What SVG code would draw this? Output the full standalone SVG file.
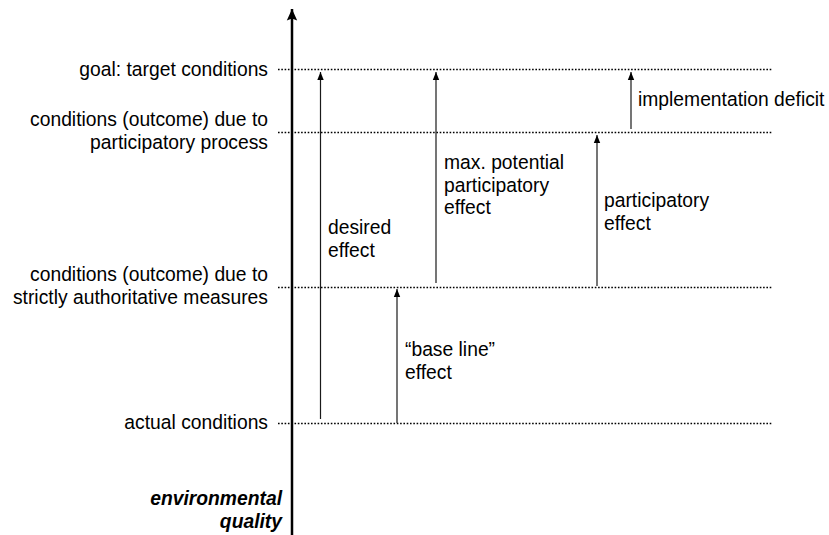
<svg xmlns="http://www.w3.org/2000/svg" width="829" height="535" viewBox="0 0 829 535">
<style>
text{font-family:"Liberation Sans",Arial,Helvetica,sans-serif;font-size:19.3px;fill:#000}
.lbl{text-anchor:end}
.axl{font-weight:bold;font-style:italic;text-anchor:end}
.lvl{stroke:#000;stroke-width:1.6;stroke-dasharray:1.6 1.7;fill:none}
.arr{stroke:#1a1a1a;stroke-width:1.2;fill:none;marker-end:url(#sa)}
.axis{stroke:#000;stroke-width:2.5;fill:none;marker-end:url(#ba)}
</style>
<defs>
<marker id="sa" markerUnits="userSpaceOnUse" markerWidth="10" markerHeight="10" viewBox="-9 -5 10 10" refX="0" refY="0" orient="auto">
<path d="M0,0 L-8,-3.2 L-8,3.2 z" fill="#000"/>
</marker>
<marker id="ba" markerUnits="userSpaceOnUse" markerWidth="14" markerHeight="14" viewBox="-13 -7 14 14" refX="0" refY="0" orient="auto">
<path d="M0,0 L-11.5,-5.2 L-9.5,0 L-11.5,5.2 z" fill="#000"/>
</marker>
</defs>
<g id="level-goal">
<line class="lvl" x1="278" y1="69.5" x2="773" y2="69.5"/>
<text class="lbl" x="268" y="76">goal: target conditions</text>
</g>
<g id="level-participatory">
<line class="lvl" x1="278" y1="132.5" x2="773" y2="132.5"/>
<text class="lbl" x="268" y="126">conditions (outcome) due to</text>
<text class="lbl" x="268" y="149">participatory process</text>
</g>
<g id="level-authoritative">
<line class="lvl" x1="278" y1="287.5" x2="773" y2="287.5"/>
<text class="lbl" x="268" y="281">conditions (outcome) due to</text>
<text class="lbl" x="268" y="304">strictly authoritative measures</text>
</g>
<g id="level-actual">
<line class="lvl" x1="278" y1="423.5" x2="773" y2="423.5"/>
<text class="lbl" x="268" y="429">actual conditions</text>
</g>
<g id="axis">
<line class="axis" x1="292" y1="535" x2="292" y2="9"/>
<text class="axl" x="282" y="505">environmental</text>
<text class="axl" x="282" y="528">quality</text>
</g>
<g id="connectors">
<g id="desired-effect">
<line class="arr" x1="320.5" y1="419" x2="320.5" y2="72"/>
<text x="328" y="234">desired</text>
<text x="328" y="257">effect</text>
</g>
<g id="base-line-effect">
<line class="arr" x1="397" y1="423" x2="397" y2="289"/>
<text x="405" y="356">“base line”</text>
<text x="405" y="379">effect</text>
</g>
<g id="max-potential-effect">
<line class="arr" x1="436" y1="283" x2="436" y2="72"/>
<text x="444" y="169">max. potential</text>
<text x="444" y="192">participatory</text>
<text x="444" y="214">effect</text>
</g>
<g id="participatory-effect">
<line class="arr" x1="597" y1="286" x2="597" y2="135"/>
<text x="604" y="207">participatory</text>
<text x="604" y="230">effect</text>
</g>
<g id="implementation-deficit">
<line class="arr" x1="631" y1="129" x2="631" y2="72"/>
<text x="638" y="106">implementation deficit</text>
</g>
</g>
</svg>
